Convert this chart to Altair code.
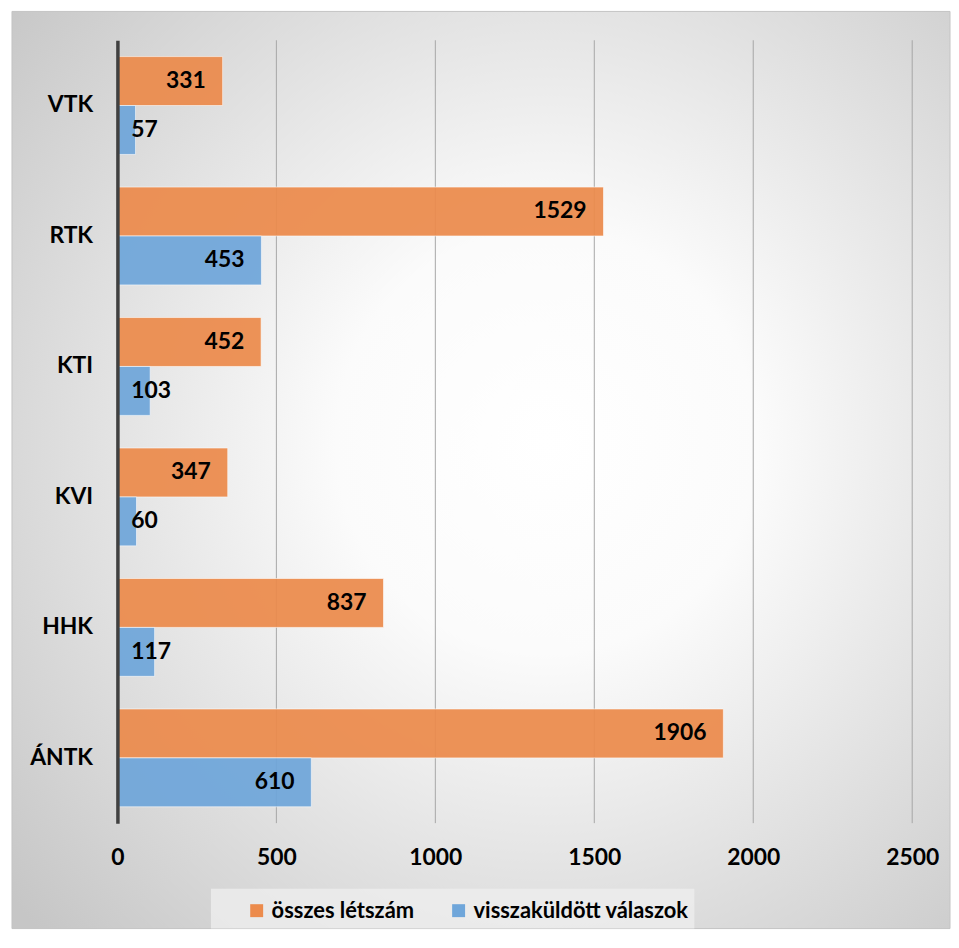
import altair as alt
import pandas as pd

categories = ["VTK", "RTK", "KTI", "KVI", "HHK", "ÁNTK"]
osszes_letszam = [331, 1529, 452, 347, 837, 1906]
visszakuldott = [57, 453, 103, 60, 117, 610]
series = ["összes létszám", "visszaküldött válaszok"]
colors = ["#EC8B4C", "#6FA6DA"]
x_ticks = [0, 500, 1000, 1500, 2000, 2500]

rows = []
for c, a, b in zip(categories, osszes_letszam, visszakuldott):
    rows.append({"kar": c, "sorozat": series[0], "ertek": a})
    rows.append({"kar": c, "sorozat": series[1], "ertek": b})
df = pd.DataFrame(rows)
df["belul"] = df["ertek"] > 200
ticks_df = pd.DataFrame({"ertek": x_ticks[1:]})

W, H = 799, 787
FONT = "Lato"
FS = 23

one = pd.DataFrame({"a": [0]})

bg = alt.Chart(one).mark_rect(
    fill=alt.RadialGradient(
        gradient="radial", x1=0.57, y1=0.47, r1=0.0, x2=0.57, y2=0.47, r2=0.75,
        stops=[alt.GradientStop(offset=0, color="#ffffff"),
               alt.GradientStop(offset=0.3, color="#fbfbfb"),
               alt.GradientStop(offset=1, color="#c6c6c6")]),
    stroke="#c4c4c4", strokeWidth=1,
).encode(x=alt.value(-106), x2=alt.value(837), y=alt.value(-29), y2=alt.value(893))

legend_box = alt.Chart(one).mark_rect(fill="#eeeeee", opacity=0.8).encode(
    x=alt.value(94), x2=alt.value(580), y=alt.value(853), y2=alt.value(893))

x_scale = alt.Scale(domain=[0, 2500], nice=False)

grid = alt.Chart(ticks_df).mark_rule(color="#a6a6a6", strokeWidth=1).encode(
    x=alt.X("ertek:Q", scale=x_scale), y=alt.value(0), y2=alt.value(H))

y_enc = alt.Y("kar:N", sort=categories,
              scale=alt.Scale(paddingInner=0.25, paddingOuter=0.125),
              axis=alt.Axis(title=None, labelFont=FONT, labelFontSize=FS,
                            labelFontWeight="bold", labelColor="#000000",
                            ticks=False, labelPadding=25, domainColor="#404040",
                            domainWidth=3.5, grid=False, zindex=1))
x_enc = alt.X("ertek:Q", scale=x_scale,
              axis=alt.Axis(values=x_ticks, title=None, grid=False, format="d",
                            domain=False, ticks=False, labelPadding=24, labelFlush=False,
                            labelFont=FONT, labelFontSize=FS, labelFontWeight="bold",
                            labelColor="#000000", labelBaseline="top", zindex=1))
yoff = alt.YOffset("sorozat:N", sort=series, scale=alt.Scale(paddingInner=0.0, paddingOuter=0.0))

bars = alt.Chart(df).mark_bar(stroke="#ffffff", strokeOpacity=0.6, strokeWidth=1, opacity=0.93).encode(
    x=x_enc, y=y_enc, yOffset=yoff,
    color=alt.Color("sorozat:N", sort=series,
                    scale=alt.Scale(domain=series, range=colors),
                    legend=alt.Legend(title=None, orient="none", legendX=129, legendY=864,
                                      direction="horizontal", symbolType="square",
                                      symbolSize=169, symbolStrokeWidth=0, symbolOpacity=1,
                                      labelFont=FONT, labelFontSize=22, labelLimit=0,
                                      labelFontWeight="bold", labelColor="#000000",
                                      labelOffset=4, columnPadding=33, padding=0)),
)

txt_in = alt.Chart(df).transform_filter("datum.belul").mark_text(
    align="right", baseline="middle", dx=-17, font=FONT, fontSize=FS,
    fontWeight="bold", color="#000000").encode(
    x="ertek:Q", y=alt.Y("kar:N", sort=categories), yOffset=yoff, text="ertek:Q")

txt_out = alt.Chart(df).transform_filter("!datum.belul").mark_text(
    align="left", baseline="middle", dx=14, font=FONT, fontSize=FS,
    fontWeight="bold", color="#000000").encode(
    x=alt.value(0), y=alt.Y("kar:N", sort=categories), yOffset=yoff, text="ertek:Q")

chart = alt.layer(bg, legend_box, grid, bars, txt_in, txt_out).properties(
    width=W, height=H,
    padding={"left": 3, "top": 0, "right": 0, "bottom": 0},
).configure_view(stroke=None).configure(background="#ffffff")

chart.save("out.html", embed_options={"renderer": "svg", "actions": False})
